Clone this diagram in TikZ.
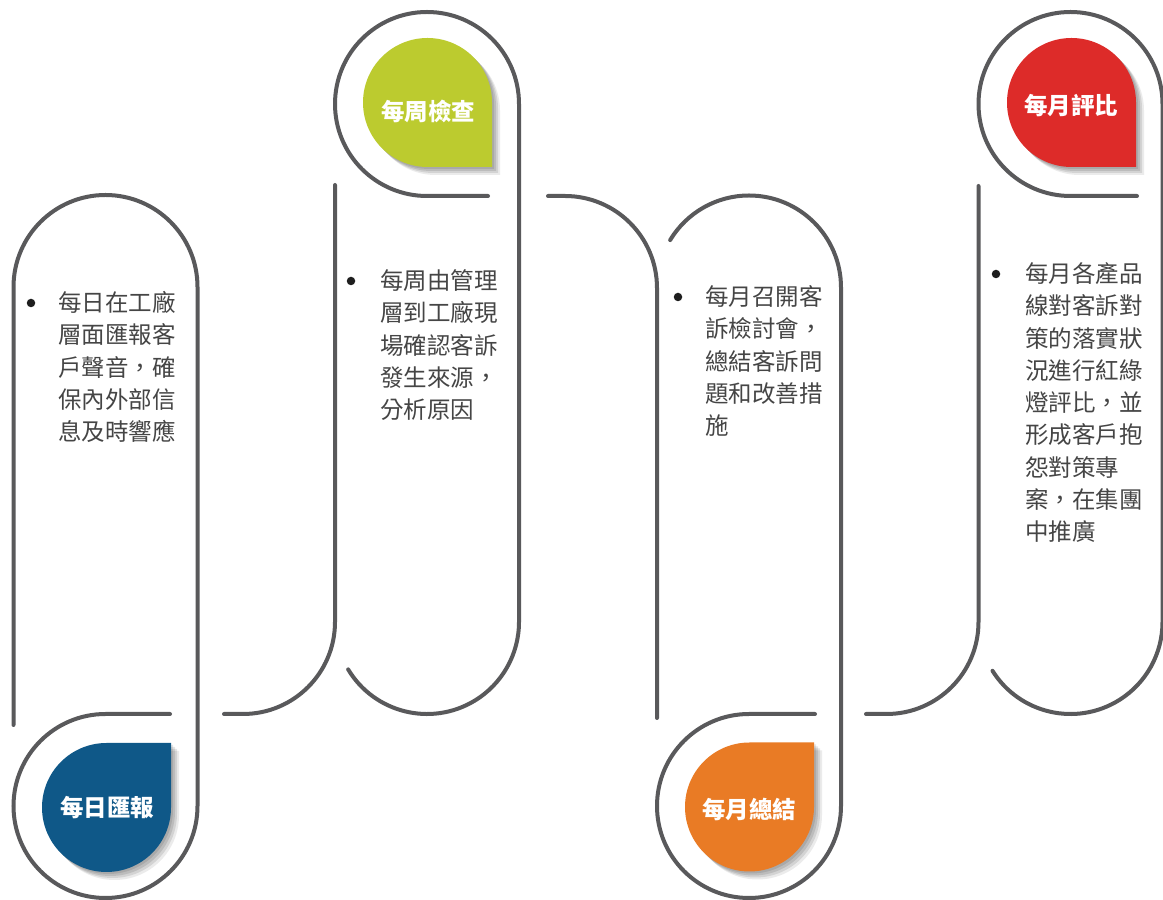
\documentclass[tikz,border=0pt]{standalone}
\usepackage{fontspec}
\newfontfamily\cjk{Noto Sans CJK TC}
\definecolor{linegray}{HTML}{59595B}
\definecolor{bodygray}{HTML}{454545}
\definecolor{dotblack}{HTML}{1E1E1E}
\definecolor{dropblue}{HTML}{0F5888}
\definecolor{dropgreen}{HTML}{BCCB2F}
\definecolor{droporange}{HTML}{E97B25}
\definecolor{dropred}{HTML}{DD2B29}
\tikzset{
  track/.style={line width=4pt, draw=linegray, line cap=round},
  bodytxt/.style={font=\cjk\fontsize{23.5}{32}\selectfont, text=bodygray, inner sep=0pt, anchor=base west},
  titletxt/.style={font=\cjk\bfseries\fontsize{23.5}{27}\selectfont, text=white, inner sep=0pt},
  bulletdot/.style={circle, fill=dotblack, inner sep=0pt, minimum size=8.5pt},
  pics/droptr/.style={code={
    \foreach \o/\op in {2/0.10,4/0.10,6/0.10,8/0.08}{
      \fill[black, opacity=\op, shift={(\o,-\o)}] (64.5,0) -- (64.5,64.5) -- (0,64.5) arc[start angle=90,end angle=360,radius=64.5] -- cycle;}
    \fill[#1] (64.5,0) -- (64.5,64.5) -- (0,64.5) arc[start angle=90,end angle=360,radius=64.5] -- cycle;
  }},
  pics/dropbr/.style={code={
    \foreach \o/\op in {2/0.10,4/0.10,6/0.10,8/0.08}{
      \fill[black, opacity=\op, shift={(\o,-\o)}] (0,-64.5) -- (64.5,-64.5) -- (64.5,0) arc[start angle=0,end angle=270,radius=64.5] -- cycle;}
    \fill[#1] (0,-64.5) -- (64.5,-64.5) -- (64.5,0) arc[start angle=0,end angle=270,radius=64.5] -- cycle;
  }},
}
\begin{document}
\begin{tikzpicture}[x=1pt,y=1pt]
\useasboundingbox (0,0) rectangle (1163,900);
\fill[white] (0,0) rectangle (1163,900);

% column 1 track
\draw[track] (170,186) -- (105.5,186) arc[start angle=90,end angle=360,radius=92] -- (197.5,613) arc[start angle=0,end angle=180,radius=92] -- (13.5,175);
% connector 1 + column 2 left line
\draw[track] (224,186) -- (243,186) arc[start angle=270,end angle=360,radius=92] -- (335,715);
% column 2 track
\draw[track] ([shift={(427,278)}]211:92) arc[start angle=211,end angle=360,radius=92] -- (519,796) arc[start angle=0,end angle=270,radius=92] -- (488,704);
% connector 2 + column 3 left line
\draw[track] (548,704) -- (565,704) arc[start angle=90,end angle=0,radius=92] -- (657,182);
% column 3 track
\draw[track] (815,186) -- (749,186) arc[start angle=90,end angle=360,radius=92] -- (841,612.5) arc[start angle=0,end angle=149,radius=92];
% connector 3 + column 4 left line
\draw[track] (866,186) -- (886.5,186) arc[start angle=270,end angle=360,radius=92] -- (978.5,714);
% column 4 track
\draw[track] ([shift={(1070.5,278)}]212:92) arc[start angle=212,end angle=360,radius=92] -- (1162.5,796) arc[start angle=0,end angle=270,radius=92] -- (1137,704);

% drops
\pic (d1) at (106.5,92.5) {droptr=dropblue};
\pic (d2) at (427.5,797.5) {dropbr=dropgreen};
\pic (d3) at (749.5,93) {droptr=droporange};
\pic (d4) at (1071.5,797.5) {dropbr=dropred};

\node[titletxt] (t1) at (107,92) {每日匯報};
\node[titletxt] (t2) at (428,789) {每周檢查};
\node[titletxt] (t3) at (749,91) {每月總結};
\node[titletxt] (t4) at (1071,794) {每月評比};

% bullets
\node[bulletdot] (b1) at (31,597) {};
\node[bulletdot] (b2) at (351,619) {};
\node[bulletdot] (b3) at (678,603) {};
\node[bulletdot] (b4) at (996,626) {};

% body text
\foreach \t [count=\i] in {每日在工廠,層面匯報客,戶聲音，確,保內外部信,息及時響應}
  \node[bodytxt] (a\i) at (58,{588.3-32.25*(\i-1)}) {\t};
\foreach \t [count=\i] in {每周由管理,層到工廠現,場確認客訴,發生來源，,分析原因}
  \node[bodytxt] (b\i) at (380,{610.3-32.25*(\i-1)}) {\t};
\foreach \t [count=\i] in {每月召開客,訴檢討會，,總結客訴問,題和改善措,施}
  \node[bodytxt] (c\i) at (705,{594.3-32.25*(\i-1)}) {\t};
\foreach \t [count=\i] in {每月各產品,線對客訴對,策的落實狀,況進行紅綠,燈評比，並,形成客戶抱,怨對策專,案，在集團,中推廣}
  \node[bodytxt] (e\i) at (1025,{617.3-32.25*(\i-1)}) {\t};
\end{tikzpicture}
\end{document}
